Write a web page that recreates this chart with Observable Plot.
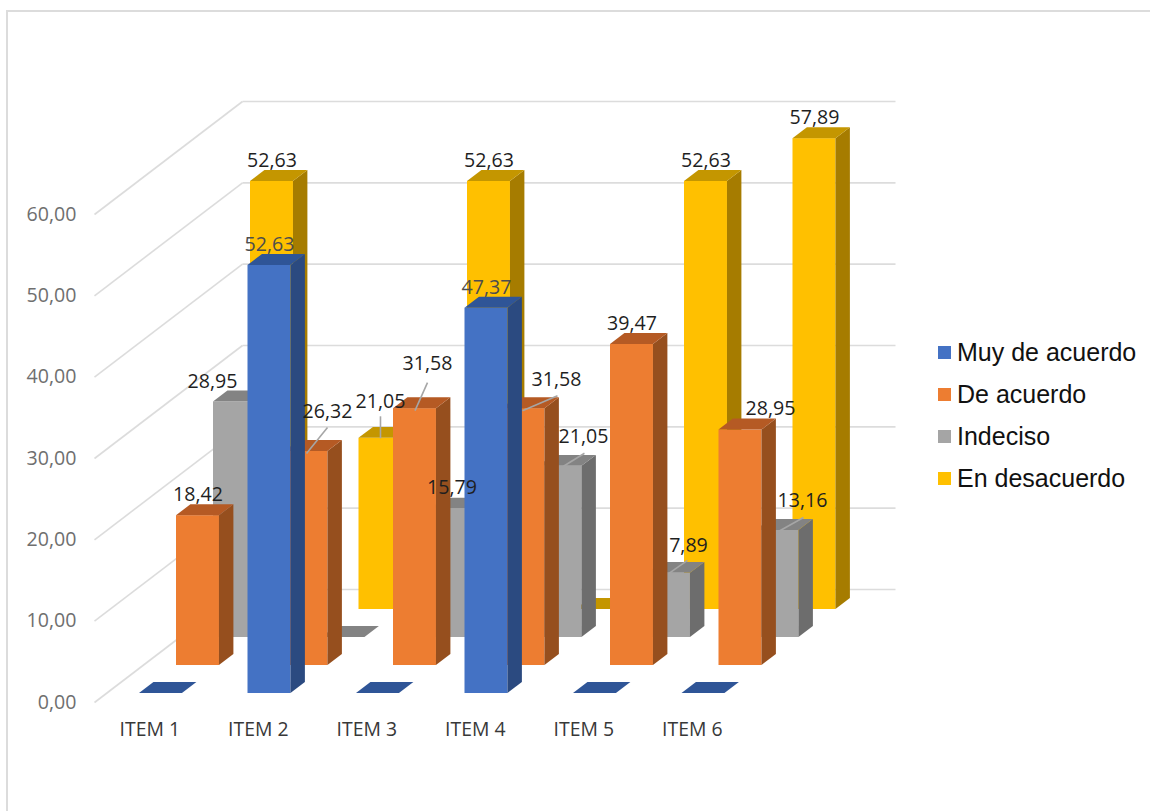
<!DOCTYPE html>
<html lang="es">
<head>
<meta charset="utf-8">
<script src="https://cdn.jsdelivr.net/npm/d3@7"></script>
<script src="https://cdn.jsdelivr.net/npm/@observablehq/plot@0.6"></script>
<style>
  html, body { margin: 0; padding: 0; background: #fff; overflow: hidden; }
  #page { position: relative; width: 1150px; height: 811px; }
  #frame { position: absolute; left: 6px; top: 10px; right: -4px; bottom: -4px; border: 2px solid #dcdcdc; pointer-events: none; }
  #legend { position: absolute; left: 938px; top: 331px; font: 25px "Liberation Sans", Arial, sans-serif; color: #111; }
  #legend div { display: flex; align-items: center; height: 42px; }
  #legend i { display: block; width: 13px; height: 13px; margin-right: 6px; }
</style>
</head>
<body>
<div id="page">
  <div id="chart"></div>
  <div id="frame"></div>
  <div id="legend"></div>
</div>
<script>
const categories = ["ITEM 1", "ITEM 2", "ITEM 3", "ITEM 4", "ITEM 5", "ITEM 6"];
const seriesNames = ["Muy de acuerdo", "De acuerdo", "Indeciso", "En desacuerdo"];
const muyDeAcuerdo = [0, 52.63, 0, 47.37, 0, 0];
const deAcuerdo = [18.42, 26.32, 31.58, 31.58, 39.47, 28.95];
const indeciso = [28.95, 0, 15.79, 21.05, 7.89, 13.16];
const enDesacuerdo = [52.63, 21.05, 52.63, 0, 52.63, 57.89];
const seriesValues = [muyDeAcuerdo, deAcuerdo, indeciso, enDesacuerdo];
const yTicks = [0, 10, 20, 30, 40, 50, 60];

// front, side, top face colours of each series
const faceColors = [
  ["#4472c4", "#2b4a80", "#2f5597"],
  ["#ed7d31", "#964f1e", "#b55a24"],
  ["#a5a5a5", "#6d6d6d", "#838383"],
  ["#ffc000", "#a67c00", "#c49600"]
];
const gridColor = "#dcdcdc";

// Oblique projection, stated in scale units
const pxX = 1 / 108.5;            // one pixel on the x scale
const pxY = 60 / 488;             // one pixel on the y scale
const stepX = 37 * pxX;           // x shift of one depth slot
const stepY = 28 * pxY;           // y shift of one depth slot
const barInset = 0.293;           // gap before a bar inside its category
const barWidth = 0.396;           // bar width in category units
const depthStart = 0.357;         // where a bar starts inside its depth slot
const depthSize = 0.39;           // bar depth in depth slots
const barDrop = pxY;              // bars sit one pixel lower than the slot grid

// Label adjustments in pixels, relative to the default spot above a bar:
// series, item, label shift, and the two ends of the leader line, if any.
const labelMoves = [
  {s: 2, i: 0, dx: -22.5, dy: -20.5},
  {s: 1, i: 1, dx: 21, dy: -40, leader: [21, -24, 0, 2]},
  {s: 3, i: 1, dx: 0, dy: -37, leader: [0, -22, 0, 0]},
  {s: 1, i: 2, dx: 12.5, dy: -45, leader: [12.5, -26, 0, 2]},
  {s: 1, i: 3, dx: 33, dy: -29, leader: [34, -13, -1, 2]},
  {s: 2, i: 3, dx: 23, dy: -30, leader: [24, -13, 3, 0]},
  {s: 2, i: 4, dx: 19.5, dy: -28, leader: [18.5, -13, 0, 0]},
  {s: 1, i: 5, dx: 30, dy: -21.5},
  {s: 2, i: 5, dx: 25, dy: -30, leader: [26, -13, 1, 1]}
];

const fmt = v => v.toFixed(2).replace(".", ",");
const shiftX = d => d * stepX;
const shiftY = d => d * stepY;

const bars = seriesValues.flatMap((vals, s) => vals.map((v, i) => {
  const d = s + depthStart;
  const x1 = i + barInset + shiftX(d);
  const x2 = x1 + barWidth;
  const base = shiftY(d) - barDrop;
  const top = base + v;
  return {s, i, v, x1, x2, base, top, id: `${s}-${i}`};
}));

const depthX = shiftX(depthSize);
const depthY = shiftY(depthSize);

function sideFace(list) {
  return list.flatMap(b => [
    {id: b.id, x: b.x2, y1: b.base, y2: b.top},
    {id: b.id, x: b.x2 + depthX, y1: b.base + depthY, y2: b.top + depthY}
  ]);
}
function topFace(list) {
  return list.flatMap(b => [
    {id: b.id, y: b.top, x1: b.x1, x2: b.x2},
    {id: b.id, y: b.top + depthY, x1: b.x1 + depthX, x2: b.x2 + depthX}
  ]);
}

// Back to front: yellow, grey, orange, blue
const barMarks = [3, 2, 1, 0].flatMap(s => {
  const list = bars.filter(b => b.s === s);
  const raised = list.filter(b => b.v > 0);
  return [
    Plot.rect(raised, {x1: "x1", x2: "x2", y1: "base", y2: "top", fill: faceColors[s][0]}),
    Plot.area(sideFace(raised), {x1: "x", y1: "y1", y2: "y2", z: "id", fill: faceColors[s][1]}),
    Plot.area(topFace(list), {y1: "y", x1: "x1", x2: "x2", z: "id", fill: faceColors[s][2]})
  ];
});

// Walls
const wallX = shiftX(4);
const wallY = shiftY(4) + pxY;
const leftWall = yTicks.map(v => ({x1: 0, x2: wallX, y1: v, y2: v + wallY}));
const backWall = yTicks.map(v => ({x1: wallX, x2: categories.length + wallX + 2 * pxX, y1: v + wallY, y2: v + wallY}));

// Labels
const labelled = bars.filter(b => b.v > 0).map(b => {
  const m = labelMoves.find(k => k.s === b.s && k.i === b.i) || {dx: 0, dy: -21};
  const cx = (b.x1 + b.x2) / 2;
  return {
    ...b, cx,
    lx: cx + m.dx * pxX,
    ly: b.top - m.dy * pxY,
    text: fmt(b.v),
    leader: m.leader && {
      x1: cx + m.leader[0] * pxX, y1: b.top - m.leader[1] * pxY,
      x2: cx + m.leader[2] * pxX, y2: b.top - m.leader[3] * pxY
    }
  };
});
const leaders = labelled.filter(d => d.leader).map(d => d.leader);

const chart = Plot.plot({
  width: 1150,
  height: 811,
  marginLeft: 76,
  marginRight: 0,
  marginTop: 0,
  marginBottom: 90,
  style: {background: "#fff", fontFamily: "'Open Sans', sans-serif"},
  x: {domain: [0, 6], range: [94, 745]},
  y: {domain: [0, 60], range: [702, 214]},
  marks: [
    Plot.link(leftWall, {x1: "x1", x2: "x2", y1: "y1", y2: "y2", stroke: gridColor, strokeWidth: 1.6}),
    Plot.link(backWall, {x1: "x1", x2: "x2", y1: "y1", y2: "y2", stroke: gridColor, strokeWidth: 1.6}),
    ...barMarks,
    Plot.link(leaders, {x1: "x1", x2: "x2", y1: "y1", y2: "y2", stroke: "#a6a6a6", strokeWidth: 1.6}),
    Plot.text(labelled.filter(d => d.s !== 0), {x: "lx", y: "ly", text: "text", fontSize: 19.6, fill: "#1f1f1f"}),
    Plot.text(labelled.filter(d => d.s === 0), {x: "lx", y: "ly", text: "text", fontSize: 19.6, fill: "#4d4d4d"}),
    Plot.axisY({anchor: "left", ticks: yTicks, tickFormat: fmt, tickSize: 0, tickPadding: 0, fontSize: 19.6, color: "#6f6f6f", label: null}),
    Plot.axisX({anchor: "bottom", ticks: categories.map((c, i) => i + 0.5), tickFormat: d => categories[Math.floor(d)], tickSize: 0, tickPadding: 1, dx: 1, fontSize: 19.4, color: "#383838", label: null})
  ]
});
document.getElementById("chart").appendChild(chart);

const legend = document.getElementById("legend");
seriesNames.forEach((name, s) => {
  const row = document.createElement("div");
  const swatch = document.createElement("i");
  swatch.style.background = faceColors[s][0];
  row.appendChild(swatch);
  row.appendChild(document.createTextNode(name));
  legend.appendChild(row);
});
</script>
</body>
</html>
